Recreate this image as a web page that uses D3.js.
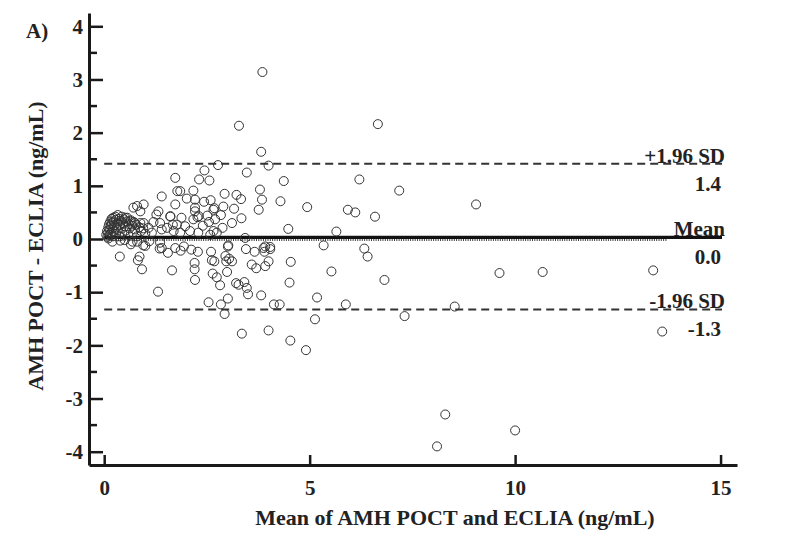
<!DOCTYPE html>
<html>
<head>
<meta charset="utf-8">
<script src="https://cdn.jsdelivr.net/npm/d3@7"></script>
<style>
  body { margin: 0; background: #fff; }
  text { font-family: "Liberation Serif", "Times New Roman", serif; font-weight: bold; fill: #222; }
</style>
</head>
<body>
<div id="chart"></div>
<script>
document.addEventListener("DOMContentLoaded", function () {
  const width = 800, height = 547;

  // Bland-Altman points: [mean of the two methods, POCT - ECLIA]
  const points = [
    // dense fan near zero
    [0.05,0.08],[0.07,0.15],[0.08,0.04],[0.1,0.22],[0.1,0.12],[0.12,0.28],[0.13,0.18],[0.14,0.08],
    [0.15,0.33],[0.16,0.25],[0.17,0.12],[0.18,0.38],[0.19,0.3],[0.2,0.2],[0.21,0.05],[0.22,0.4],
    [0.23,0.33],[0.24,0.15],[0.25,0.26],[0.27,0.42],[0.28,0.36],[0.29,0.1],[0.3,0.22],[0.32,0.3],
    [0.33,0.45],[0.34,0.17],[0.36,0.38],[0.37,0.05],[0.38,0.27],[0.4,0.34],[0.41,0.2],[0.43,0.42],
    [0.44,0.12],[0.46,0.3],[0.48,0.37],[0.5,0.24],[0.52,0.16],[0.54,0.33],[0.56,0.4],[0.58,0.08],
    [0.6,0.28],[0.62,0.2],[0.65,0.35],[0.68,0.25],[0.7,0.12],[0.72,0.32],[0.75,0.18],[0.78,0.27],
    [0.8,0.05],[0.85,0.22],[0.88,0.3],[0.9,0.15],[0.95,0.2],[1.0,0.1],
    [0.1,0.01],[0.2,-0.05],[0.39,-0.03],[0.5,-0.02],[0.69,-0.05],[0.65,-0.1],[0.8,-0.05],[0.95,-0.12],[1.1,-0.04],
    // 0.5 - 2.5 above line
    [0.71,0.59],[0.88,0.52],[0.96,0.65],[0.8,0.62],[1.4,0.8],[1.73,1.15],[1.78,0.9],[1.27,0.46],
    [1.32,0.52],[1.2,0.32],[1.36,0.3],[1.61,0.42],[1.67,0.27],[1.53,0.21],[1.4,0.18],[0.51,0.4],
    [0.63,0.33],[0.75,0.3],[0.96,0.3],[1.08,0.21],[1.16,0.12],[1.36,-0.07],[1.4,-0.17],[1.73,0.65],
    [1.61,0.43],[1.77,0.27],[2.21,0.52],[2.27,0.41],[2.66,0.55],[2.7,0.37],[1.97,0.24],[2.09,0.15],
    [2.66,0.15],[2.58,0.08],[2.29,0.12],[1.69,0.15],[1.85,0.12],[2.21,0.74],
    // upper region
    [3.85,3.14],[3.28,2.13],[6.66,2.16],[3.82,1.64],[2.77,1.39],[4.0,1.38],[2.44,1.29],[3.47,1.25],
    [2.31,1.12],[2.56,1.1],[4.37,1.09],[6.21,1.12],[7.18,0.91],[2.17,0.91],[1.85,0.9],[2.01,0.76],
    [2.93,0.85],[3.22,0.83],[3.33,0.75],[3.79,0.93],[3.84,0.74],[4.29,0.71],[3.76,0.55],[4.94,0.6],
    [5.93,0.55],[6.11,0.5],[6.59,0.42],[2.43,0.7],[2.59,0.73],[2.21,0.59],[2.68,0.58],[2.9,0.61],
    [3.16,0.57],[2.3,0.43],[2.51,0.44],[2.84,0.45],[3.34,0.39],[3.11,0.3],[1.88,0.4],[2.17,0.37],
    [2.4,0.25],[2.55,0.32],[2.88,0.21],[4.48,0.19],[5.65,0.14],[3.43,0.02],[2.74,0.12],[9.05,0.65],
    // below line
    [5.34,-0.12],[6.33,-0.18],[6.41,-0.33],[3.92,-0.14],[4.04,-0.15],[3.02,-0.12],
    [0.38,-0.33],[0.86,-0.33],[0.82,-0.4],[0.92,-0.57],[1.65,-0.59],[1.31,-0.99],[2.2,-0.45],[2.2,-0.57],
    [2.21,-0.77],[1.0,-0.13],[1.35,-0.18],[1.55,-0.26],[1.73,-0.17],[1.86,-0.22],[1.94,-0.14],[2.12,-0.2],
    [2.28,-0.24],[2.6,-0.24],[2.62,-0.4],[3.01,-0.14],[3.45,-0.19],[3.66,-0.24],[3.88,-0.17],[4.04,-0.19],
    [3.9,-0.24],[2.68,-0.42],[2.95,-0.32],[2.97,-0.42],[3.04,-0.37],[3.11,-0.42],[2.99,-0.62],[2.64,-0.65],
    [2.74,-0.72],[2.82,-0.87],[3.21,-0.83],[3.27,-0.86],[3.41,-0.81],[3.47,-0.92],[3.5,-1.04],[3.59,-0.48],
    [3.7,-0.55],[3.92,-0.51],[4.0,-0.42],[3.82,-1.06],[3.01,-1.12],[2.54,-1.19],[2.84,-1.23],[2.93,-1.41],
    [4.13,-1.23],[4.27,-1.23],[3.35,-1.78],[4.0,-1.72],[4.53,-1.91],[4.54,-0.43],[4.51,-0.82],
    [5.53,-0.61],[6.82,-0.77],[9.62,-0.64],[10.67,-0.62],[5.18,-1.1],[5.88,-1.23],[8.53,-1.27],
    [5.13,-1.51],[7.31,-1.45],[4.91,-2.09],[13.36,-0.59],[13.58,-1.74],[8.3,-3.3],[8.1,-3.9],[10.0,-3.6]
  ];

  const xTicks = [0, 5, 10, 15];
  const yTicks = [-4, -3, -2, -1, 0, 1, 2, 3, 4];
  const yMinorTicks = [-3.5, -2.5, -1.5, -0.5, 0.5, 1.5, 2.5, 3.5];

  const meanDiff = 0.03;
  const upperLoA = 1.415;
  const lowerLoA = -1.325;
  const refLabels = [
    { y: upperLoA, name: "+1.96 SD", value: "1.4" },
    { y: meanDiff, name: "Mean", value: "0.0" },
    { y: lowerLoA, name: "-1.96 SD", value: "-1.3" }
  ];

  const svg = d3.select("#chart").append("svg")
    .attr("width", width)
    .attr("height", height);

  const x = d3.scaleLinear().domain([-0.37, 15.4]).range([89, 737]);
  const y = d3.scaleLinear().domain([-4.25, 4.25]).range([465, 13]);

  // reference lines
  const lineEnd = 722;
  svg.append("line")
    .attr("x1", x(0)).attr("x2", lineEnd)
    .attr("y1", y(upperLoA)).attr("y2", y(upperLoA))
    .attr("stroke", "#333").attr("stroke-width", 2).attr("stroke-dasharray", "8,5");
  svg.append("line")
    .attr("x1", x(0)).attr("x2", lineEnd)
    .attr("y1", y(lowerLoA)).attr("y2", y(lowerLoA))
    .attr("stroke", "#333").attr("stroke-width", 2).attr("stroke-dasharray", "8,5");
  svg.append("line")
    .attr("x1", x(0)).attr("x2", x(13.7))
    .attr("y1", y(meanDiff) + 2.5).attr("y2", y(meanDiff) + 2.5)
    .attr("stroke", "#444").attr("stroke-width", 2).attr("stroke-dasharray", "1,1.3");
  svg.append("line")
    .attr("x1", x(0)).attr("x2", lineEnd)
    .attr("y1", y(meanDiff)).attr("y2", y(meanDiff))
    .attr("stroke", "#111").attr("stroke-width", 3.2);

  // points
  svg.append("g").selectAll("circle")
    .data(points)
    .join("circle")
    .attr("cx", d => x(d[0]))
    .attr("cy", d => y(d[1]))
    .attr("r", 4.5)
    .attr("fill", "none")
    .attr("stroke", "#333")
    .attr("stroke-width", 1);

  // axes
  const yAxis = svg.append("g")
    .attr("transform", `translate(${x.range()[0]},0)`)
    .call(d3.axisLeft(y).tickValues(yTicks).tickSize(-14).tickSizeOuter(0)
      .tickPadding(6).tickFormat(d => String(d)));
  yAxis.append("g").selectAll("line")
    .data(yMinorTicks)
    .join("line")
    .attr("x1", 0).attr("x2", 8)
    .attr("y1", d => y(d)).attr("y2", d => y(d))
    .attr("stroke", "#1a1a1a").attr("stroke-width", 2.5);

  const xAxis = svg.append("g")
    .attr("transform", `translate(0,${y.range()[0]})`)
    .call(d3.axisBottom(x).tickValues(xTicks).tickSize(-10).tickSizeOuter(0)
      .tickPadding(15).tickFormat(d => String(d)));

  [yAxis, xAxis].forEach(g => {
    g.select(".domain").attr("stroke", "#1a1a1a").attr("stroke-width", 3);
    g.selectAll(".tick line").attr("stroke", "#1a1a1a").attr("stroke-width", 2.5);
    g.selectAll(".tick text")
      .attr("font-size", 21)
      .attr("font-family", "Liberation Serif, Times New Roman, serif")
      .attr("font-weight", "bold")
      .attr("fill", "#222");
  });

  // labels for reference lines
  refLabels.forEach(r => {
    svg.append("text")
      .attr("x", 725).attr("y", y(r.y) - 1)
      .attr("text-anchor", "end")
      .attr("font-size", 21)
      .text(r.name);
    svg.append("text")
      .attr("x", 721).attr("y", y(r.y) + 27)
      .attr("text-anchor", "end")
      .attr("font-size", 21)
      .text(r.value);
  });

  // titles
  svg.append("text")
    .attr("x", 455).attr("y", 525)
    .attr("text-anchor", "middle")
    .attr("font-size", 22)
    .text("Mean of AMH POCT and ECLIA (ng/mL)");

  svg.append("text")
    .attr("transform", "translate(43,246) rotate(-90)")
    .attr("text-anchor", "middle")
    .attr("font-size", 22)
    .text("AMH POCT - ECLIA (ng/mL)");

  svg.append("text")
    .attr("x", 26).attr("y", 38)
    .attr("font-size", 21)
    .text("A)");
});
</script>
</body>
</html>
